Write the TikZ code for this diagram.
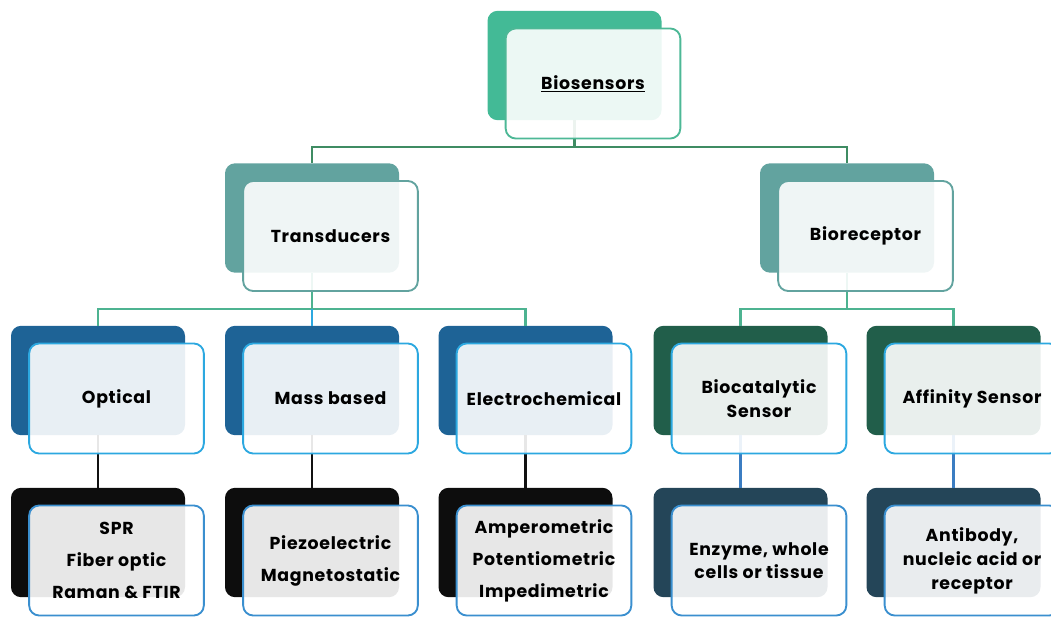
\documentclass[tikz,border=0pt]{standalone}
\usepackage{fontspec}
\setmainfont{Poppins}[LetterSpace=4]
\definecolor{bkA}{HTML}{43BA96}
\definecolor{bdA}{HTML}{4DB896}
\definecolor{bkB}{HTML}{62A39F}
\definecolor{bdB}{HTML}{62A39F}
\definecolor{bkC}{HTML}{1E6396}
\definecolor{bkD}{HTML}{215E4A}
\definecolor{bdC}{HTML}{2CA8E0}
\definecolor{bkE}{HTML}{0D0D0D}
\definecolor{bkF}{HTML}{244558}
\definecolor{bdE}{HTML}{3A8FCF}
\definecolor{lnA}{HTML}{3F8C63}
\definecolor{lnB}{HTML}{4DB391}
\definecolor{lnC}{HTML}{3B7DC2}
\definecolor{lnD}{HTML}{111111}
\tikzset{
  backbox/.style={rectangle, rounded corners=7.5pt, minimum width=130.5pt, minimum height=82pt, inner sep=0pt, draw=none},
  frontbox/.style={rectangle, rounded corners=7.5pt, minimum width=131pt, minimum height=82.5pt, inner sep=1pt, fill=white, fill opacity=0.9, text opacity=1, line width=1.4pt, align=center, font=\bfseries\fontsize{13}{16}\selectfont, text=black},
  conn/.style={line width=1.6pt},
}
\begin{document}
\begin{tikzpicture}[x=0.75pt,y=-0.75pt]
\useasboundingbox (0,0) rectangle (1051,617);
\clip (0,0) rectangle (1051,617);
% back boxes
\node[backbox, fill=bkA] (bA) at (574.5,65.5) {};
\node[backbox, fill=bkB] (bT) at (312,218) {};
\node[backbox, fill=bkB] (bR) at (847,218) {};
\node[backbox, fill=bkC] (bO) at (98,380.5) {};
\node[backbox, fill=bkC] (bM) at (312,380.5) {};
\node[backbox, fill=bkC] (bE) at (525.5,380.5) {};
\node[backbox, fill=bkD] (bB) at (740.5,380.5) {};
\node[backbox, fill=bkD] (bF) at (953.5,380.5) {};
\node[backbox, fill=bkE] (bO2) at (98,542.5) {};
\node[backbox, fill=bkE] (bM2) at (312,542.5) {};
\node[backbox, fill=bkE] (bE2) at (525.5,542.5) {};
\node[backbox, fill=bkF] (bB2) at (740.5,542.5) {};
\node[backbox, fill=bkF] (bF2) at (953.5,542.5) {};
% connectors
\coordinate (hA) at (0,147);
\coordinate (hB) at (0,309);
\draw[conn, lnA] (bA.south) -- (bA.south |- hA) -| (bT.north);
\draw[conn, lnA] (bA.south |- hA) -| (bR.north);
\draw[conn, lnB] (bT.south) -- (bT.south |- hB) -| (bO.north);
\draw[conn, lnB] (bT.south |- hB) -| (bE.north);
\draw[conn, bdC] (bT.south |- hB) -- (bM.north);
\draw[conn, lnB] (bR.south) -- (bR.south |- hB) -| (bB.north);
\draw[conn, lnB] (bR.south |- hB) -| (bF.north);
\draw[conn, lnD] (bO.south) -- (bO2.north);
\draw[conn, lnD] (bM.south) -- (bM2.north);
\draw[conn, lnD] (bE.south) -- (bE2.north);
\draw[conn, lnC] (bB.south) -- (bB2.north);
\draw[conn, lnC] (bF.south) -- (bF2.north);
% front boxes
\node[frontbox, draw=bdA] (fA) at ([shift={(18.5,18)}]bA.center) {\underline{Biosensors}};
\node[frontbox, draw=bdB] (fT) at ([shift={(18.5,18)}]bT.center) {Transducers};
\node[frontbox, draw=bdB] (fR) at ([shift={(18.5,18)}]bR.center) {Bioreceptor};
\node[frontbox, draw=bdC] (fO) at ([shift={(18.5,18)}]bO.center) {Optical};
\node[frontbox, draw=bdC] (fM) at ([shift={(18.5,18)}]bM.center) {Mass based};
\node[frontbox, draw=bdC] (fE) at ([shift={(18.5,18)}]bE.center) {Electrochemical};
\node[frontbox, draw=bdC, font=\bfseries\fontsize{13}{18}\selectfont] (fB) at ([shift={(18.5,18)}]bB.center) {Biocatalytic\\Sensor};
\node[frontbox, draw=bdC] (fF) at ([shift={(18.5,18)}]bF.center) {Affinity Sensor};
\node[frontbox, draw=bdE, font=\bfseries\fontsize{13}{24}\selectfont] (fO2) at ([shift={(18.5,18)}]bO2.center) {SPR\\Fiber optic\\Raman \& FTIR};
\node[frontbox, draw=bdE, font=\bfseries\fontsize{13}{24}\selectfont] (fM2) at ([shift={(18.5,18)}]bM2.center) {Piezoelectric\\Magnetostatic};
\node[frontbox, draw=bdE, font=\bfseries\fontsize{13}{24}\selectfont] (fE2) at ([shift={(18.5,18)}]bE2.center) {Amperometric\\Potentiometric\\Impedimetric};
\node[frontbox, draw=bdE, font=\bfseries\fontsize{13}{17}\selectfont] (fB2) at ([shift={(18.5,18)}]bB2.center) {Enzyme, whole\\cells or tissue};
\node[frontbox, draw=bdE, font=\bfseries\fontsize{13}{18}\selectfont] (fF2) at ([shift={(18.5,18)}]bF2.center) {Antibody,\\nucleic acid or\\receptor};
\end{tikzpicture}
\end{document}
